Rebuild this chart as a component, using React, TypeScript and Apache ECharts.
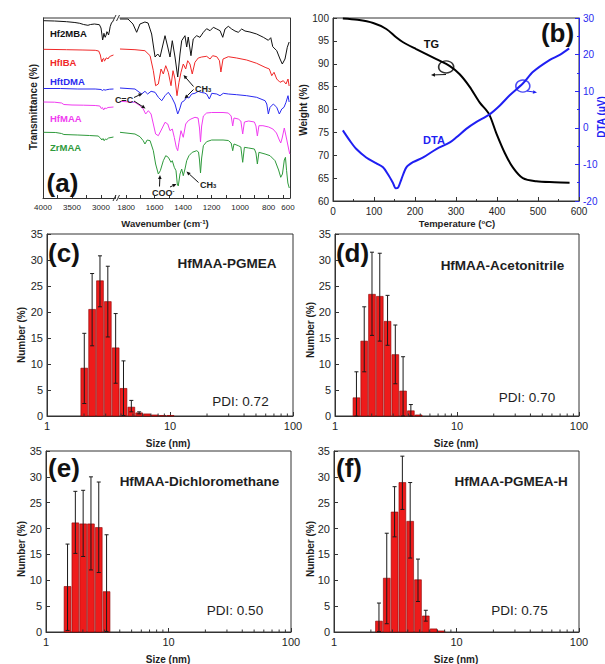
import React, { useEffect, useRef } from "react";
import * as echarts from "echarts";

const FONT = "'Liberation Sans', Arial, Helvetica, sans-serif";

// ---------- (a) FTIR spectra, [wavenumber (cm-1), offset transmittance (a.u.)]
const hf2mbaHigh = [[3990,177.3],[3800,177],[3593,176.3],[3450,175.5],[3367,174.7],[3300,173.5],[3226,172.7],[3180,173.5],[3113,174],[3028,173.3],[3000,170],[2985,164],[2972,158],[2960,161],[2949,164.7],[2938,162],[2927,160.7],[2912,163],[2898,166.3],[2884,165],[2870,163],[2855,167],[2842,171.3],[2820,175],[2785,177.3]];
const hf2mbaLow = [[1843,179],[1787,179],[1752,174],[1726,165.7],[1703,174],[1668,176],[1646,175],[1621,164],[1597,141],[1578,144],[1562,141],[1527,162.3],[1508,151],[1492,141],[1476,157.3],[1457,141],[1438,121],[1422,144],[1410,157.3],[1387,162.3],[1375,151],[1364,161],[1345,142.3],[1329,159],[1305,162.3],[1282,160.7],[1258,165.7],[1235,169.3],[1211,167.3],[1188,170.7],[1164,169],[1141,167.3],[1122,160.7],[1106,169],[1083,171.7],[1059,169],[1036,167],[1013,165.7],[989,169],[966,167],[931,166],[884,164],[837,160.7],[802,157.7],[785,160.3],[771,151.3],[743,147.3],[720,139],[704,134],[685,139],[669,150.7],[656,156]];

const hfibaHigh = [[3990,148.7],[3593,148.3],[3311,148],[3100,147.7],[3040,147],[3011,143],[2995,138],[2983,136],[2970,139],[2955,139.7],[2940,137],[2927,137.7],[2912,140],[2898,140],[2880,139],[2859,141],[2830,142],[2785,143]];
const hfibaLow = [[1843,149],[1738,148.3],[1668,147.3],[1632,142.3],[1609,127.3],[1593,112.3],[1574,114],[1555,129],[1539,124],[1522,132.3],[1504,125.7],[1485,112.3],[1471,127.3],[1457,119],[1443,102.3],[1429,115.7],[1415,125.7],[1399,134],[1382,129],[1368,137.3],[1352,134],[1336,124],[1317,135.7],[1294,140],[1270,141],[1235,141.7],[1211,139],[1193,142.3],[1164,141.3],[1145,137.3],[1135,126],[1120,139],[1083,141.3],[1024,140],[954,138],[884,134.7],[825,130.7],[795,129],[778,122.3],[762,125.7],[743,119],[720,115.7],[697,117.3],[678,114],[664,119],[656,112]];

const hftdmaHigh = [[3990,109.5],[3700,109.5],[3400,109],[3100,109],[3000,108.5],[2975,107.5],[2950,108.5],[2930,107.8],[2900,108.3],[2850,108.8],[2785,109]];
const hftdmaLow = [[1843,110],[1738,109],[1691,104],[1668,106.7],[1649,104],[1625,106.7],[1597,105.7],[1574,100.7],[1550,97.3],[1527,102.3],[1504,105.7],[1480,100.7],[1457,94],[1438,84],[1424,89],[1410,95.7],[1392,97.3],[1375,100.7],[1359,100],[1340,104],[1317,104.7],[1294,106.7],[1270,105.5],[1250,105],[1235,104],[1216,99],[1199,104.7],[1164,104],[1141,102.3],[1118,104.7],[1083,104],[1024,103.3],[954,102.3],[884,100.7],[825,97.3],[813,94],[802,84],[790,90.7],[767,94],[743,90.7],[725,84],[708,89],[692,90.7],[678,95.7],[664,102.3],[656,96]];

const hfmaaHigh = [[3990,96],[3800,95.8],[3680,95],[3640,93.5],[3500,93],[3300,92.8],[3100,92.5],[3020,92],[2995,89.5],[2975,90.5],[2955,88],[2935,90],[2910,89.5],[2880,90.5],[2785,91]];
const hfmaaLow = [[1843,96.7],[1738,95.7],[1703,92.3],[1680,89],[1663,84],[1644,87.3],[1625,84],[1609,74],[1593,64],[1574,62.3],[1550,69],[1527,75.7],[1508,74],[1492,67.3],[1476,69],[1462,60.7],[1448,50.7],[1438,47.3],[1429,55.7],[1415,67.3],[1399,60.7],[1382,74],[1364,77.3],[1345,79],[1317,80.7],[1295,80],[1285,70],[1278,56],[1270,72],[1258,82],[1235,85],[1200,85.5],[1120,85.5],[1083,85],[1063,82],[1052,72],[1043,80],[1013,79],[995,77],[982,64],[970,76],[940,77],[900,76],[889,72],[879,62],[868,72.3],[840,72.3],[800,71],[770,69],[745,65],[725,58],[715,55],[705,60],[690,70],[678,62],[668,55],[658,48],[652,44]];

const zrmaaHigh = [[3990,65.7],[3780,65.5],[3680,64.5],[3640,63.5],[3400,63],[3200,62.5],[3050,62],[3010,60],[2985,58],[2965,59.5],[2945,57.3],[2925,59],[2900,58.5],[2870,60],[2785,61]];
const zrmaaLow = [[1843,65.7],[1738,64],[1703,61.3],[1680,57.3],[1668,54],[1652,58],[1632,57.3],[1609,47.3],[1593,34],[1574,24],[1560,27.3],[1539,37.3],[1522,42.3],[1504,40.7],[1485,35.7],[1476,37.3],[1462,30.7],[1450,27.3],[1441,14],[1434,12],[1422,24],[1410,29],[1399,22.3],[1387,29],[1375,37.3],[1359,42.3],[1336,45.7],[1305,47.3],[1292,46],[1285,38],[1278,25],[1270,40],[1258,52.3],[1235,56.3],[1200,58],[1120,58],[1083,57.5],[1063,55],[1052,47.3],[1043,54],[1013,52.3],[995,51],[982,35.7],[970,50.7],[940,50],[900,49],[889,45],[879,34],[868,45.7],[825,44],[790,42.3],[755,37.3],[730,28],[715,20.7],[703,24],[690,38],[682,40.7],[674,27.3],[665,15],[655,10]];

const ftirNames = ["Hf2MBA", "HfIBA", "HftDMA", "HfMAA", "ZrMAA"];
const ftirColors = ["#111111", "#f02828", "#2a2af0", "#f03cf0", "#2f9a3c"];
const ftirHigh = [hf2mbaHigh, hfibaHigh, hftdmaHigh, hfmaaHigh, zrmaaHigh];
const ftirLow = [hf2mbaLow, hfibaLow, hftdmaLow, hfmaaLow, zrmaaLow];
const ftirHighTicks = [4000, 3500, 3000];
const ftirLowTicks = [1800, 1600, 1400, 1200, 1000, 800];
const ftirLowMinor = [1800, 1700, 1600, 1500, 1400, 1300, 1200, 1100, 1000, 900, 800, 700];

// ---------- (b) TG / DTA
const tgT = [24, 60, 98, 130, 154, 171, 203, 252, 285, 309, 333, 358, 380, 398, 419, 439, 463, 496, 540, 577];
const tgW = [99.9, 99.6, 98.9, 97.6, 95.8, 94.7, 93.2, 91.0, 89.5, 87.7, 85.0, 81.5, 79.1, 74.9, 70.5, 67.3, 65.0, 64.3, 64.1, 64.0];
const dtaT = [24, 41, 57, 81, 106, 122, 134, 146, 153, 159, 167, 179, 195, 220, 252, 285, 301, 325, 350, 381, 407, 431, 463, 488, 528, 553, 576];
const dtaV = [-0.7, -3.5, -5.8, -8.1, -9.7, -10.8, -12.7, -15.0, -16.5, -16.3, -14.0, -10.8, -9.4, -8.1, -5.8, -4.0, -2.6, -0.3, 1.6, 3.6, 6.1, 8.9, 12.1, 15.3, 18.5, 19.9, 21.7];
const tgMarker = [276, 89.3];
const dtaMarker = [463, 11.4];

// ---------- (c)-(f) DLS size distributions: bin centre (nm), number %, error low, error high
const binsC = [2.010, 2.328, 2.696, 3.122, 3.615, 4.187, 4.849, 5.615, 6.503, 7.531, 8.721, 10.10];
const valC = [9.2, 20.5, 26.0, 22.0, 13.1, 5.3, 1.7, 0.6, 0.4, 0.2, 0.1, 0.1];
const loC = [2.4, 13.5, 21.0, 15.2, 6.3, 0.1, 0.8, 0.4, 0.3, 0.2, 0.1, 0.1];
const hiC = [15.9, 27.4, 30.8, 28.8, 19.7, 10.6, 3.0, 0.8, 0.5, 0.2, 0.1, 0.1];

const binsD = [1.499, 1.736, 2.010, 2.328, 2.696, 3.122, 3.615, 4.187, 4.849];
const valD = [3.5, 14.4, 23.4, 23.0, 18.2, 11.8, 4.8, 1.0, 0.2];
const loD = [0, 8.5, 15.5, 14.4, 13.6, 6.2, 0, 0, 0.2];
const hiD = [8.5, 21.0, 31.5, 31.3, 23.2, 17.5, 11.4, 2.2, 0.2];

const binsE = [1.499, 1.736, 2.010, 2.328, 2.696, 3.122];
const valE = [8.8, 21.1, 20.9, 20.9, 20.2, 7.8];
const loE = [0.3, 15.2, 14.6, 12.0, 11.5, 0.1];
const hiE = [17.0, 27.2, 27.4, 30.0, 29.0, 18.8];

const binsF = [2.328, 2.696, 3.122, 3.615, 4.187, 4.849, 5.615, 6.503, 7.531];
const valF = [2.1, 10.4, 23.2, 28.9, 21.4, 10.1, 3.1, 0.6, 0.2];
const loF = [0.1, 1.6, 18.4, 23.7, 14.3, 5.9, 2.1, 0.5, 0.2];
const hiF = [5.6, 19.1, 28.1, 34.0, 28.9, 14.1, 4.2, 0.7, 0.2];

const dlsTitles = ["HfMAA-PGMEA", "HfMAA-Acetonitrile", "HfMAA-Dichloromethane", "HfMAA-PGMEA-H"];
const dlsPDI = ["PDI: 0.72", "PDI: 0.70", "PDI: 0.50", "PDI: 0.75"];
const logMinor = [2, 3, 4, 5, 6, 7, 8, 9, 20, 30, 40, 50, 60, 70, 80, 90];
const BIN_RATIO = 1.158;

const AX = "#333";
const TXT = "#1e1e1e";

function histItem(params: any, api: any) {
  const c = api.value(0), v = api.value(1), lo = api.value(2), hi = api.value(3);
  const h = Math.sqrt(BIN_RATIO);
  const tl = api.coord([c / h, v]);
  const br = api.coord([c * h, 0]);
  const children: any[] = [
    {
      type: "rect",
      shape: { x: tl[0] + 0.5, y: tl[1], width: Math.max(br[0] - tl[0] - 1, 0.5), height: Math.max(br[1] - tl[1], 0.4) },
      style: { fill: "#ee1b1b", stroke: "#8a0000", lineWidth: 0.6 },
    },
  ];
  if (hi - lo > 0.3) {
    const t = api.coord([c, hi]);
    const b = api.coord([c, lo]);
    const st = { stroke: "#1a1a1a", lineWidth: 1 };
    children.push({ type: "line", shape: { x1: t[0], y1: t[1], x2: b[0], y2: b[1] }, style: st });
    children.push({ type: "line", shape: { x1: t[0] - 2, y1: t[1], x2: t[0] + 2, y2: t[1] }, style: st });
    children.push({ type: "line", shape: { x1: b[0] - 2, y1: b[1], x2: b[0] + 2, y2: b[1] }, style: st });
  }
  return { type: "group", children };
}

function minorTickItem(params: any, api: any) {
  const p = api.coord([api.value(0), 0]);
  return { type: "line", shape: { x1: p[0], y1: p[1], x2: p[0], y2: p[1] - 2.5 }, style: { stroke: AX, lineWidth: 1 } };
}

function text(x: number, y: number, t: string, o: any = {}) {
  const { rotation, ...style } = o;
  return {
    type: "text", x, y, z: 100, rotation: rotation || 0,
    style: { text: t, fontFamily: FONT, fontSize: 10, fill: TXT, align: "center", verticalAlign: "middle", ...style },
  };
}

function arrow(x1: number, y1: number, x2: number, y2: number, color = "#111", w = 1) {
  const a = Math.atan2(y2 - y1, x2 - x1);
  const L = 4, W = 1.8;
  const bx = x2 - L * Math.cos(a), by = y2 - L * Math.sin(a);
  const px = -Math.sin(a) * W, py = Math.cos(a) * W;
  return [
    { type: "line", z: 100, shape: { x1, y1, x2: bx, y2: by }, style: { stroke: color, lineWidth: w } },
    { type: "polygon", z: 100, shape: { points: [[x2, y2], [bx + px, by + py], [bx - px, by - py]] }, style: { fill: color } },
  ];
}

function seg(x1: number, y1: number, x2: number, y2: number) {
  return { type: "line", z: 100, shape: { x1, y1, x2, y2 }, style: { stroke: AX, lineWidth: 1 } };
}

function buildOption() {
  const frame = { show: true, borderColor: AX, borderWidth: 1, backgroundColor: "transparent" };
  const grid = [
    { left: 43, top: 18, width: 72.5, height: 180 },
    { left: 119, top: 18, width: 171, height: 180 },
    { left: 333, top: 18, width: 246, height: 183, ...frame },
    { left: 47, top: 234, width: 246, height: 182, ...frame },
    { left: 335, top: 234, width: 244, height: 182, ...frame },
    { left: 46, top: 451, width: 245, height: 181, ...frame },
    { left: 334, top: 451, width: 245, height: 181, ...frame },
  ];
  const lbl = (size: number, margin: number, color = TXT) => ({ fontFamily: FONT, fontSize: size, color, margin });
  const line = { show: true, onZero: false, lineStyle: { color: AX, width: 1 } };
  const tick = (len: number, color = AX) => ({ show: true, inside: true, length: len, lineStyle: { color } });

  const xAxis: any[] = [
    {
      gridIndex: 0, type: "value", min: 2750, max: 4000, interval: 250, inverse: true,
      axisLine: line, axisTick: tick(3), splitLine: { show: false },
      axisLabel: { ...lbl(8, 5), formatter: (v: number) => (ftirHighTicks.includes(v) ? String(v) : "") },
    },
    {
      gridIndex: 1, type: "value", min: 650, max: 1850, inverse: true,
      axisLine: line, axisTick: { ...tick(3), customValues: ftirLowMinor }, splitLine: { show: false },
      axisLabel: { ...lbl(8, 5), customValues: ftirLowTicks, formatter: (v: number) => String(v) },
    },
    {
      gridIndex: 2, type: "value", min: 0, max: 600, interval: 100,
      axisLine: line, axisTick: tick(4), minorTick: { show: true, splitNumber: 2, length: 2, lineStyle: { color: AX } },
      splitLine: { show: false }, axisLabel: lbl(10, 5),
    },
  ];
  for (let g = 3; g <= 6; g++) {
    xAxis.push({
      gridIndex: g, type: "log", logBase: 10, min: 1, max: 100,
      axisLine: line, axisTick: tick(4), splitLine: { show: false }, axisLabel: lbl(11, 4),
    });
  }
  const yAxis: any[] = [
    { gridIndex: 0, type: "value", min: 0, max: 180, axisLine: line, axisTick: { show: false }, axisLabel: { show: false }, splitLine: { show: false } },
    { gridIndex: 1, type: "value", position: "right", min: 0, max: 180, axisLine: line, axisTick: { show: false }, axisLabel: { show: false }, splitLine: { show: false } },
    { gridIndex: 2, type: "value", min: 60, max: 100, interval: 5, axisLine: line, axisTick: tick(4), splitLine: { show: false }, axisLabel: lbl(10, 4) },
    {
      gridIndex: 2, type: "value", position: "right", min: -20, max: 30, interval: 10,
      axisLine: { show: true, onZero: false, lineStyle: { color: "#2a2af0" } }, axisTick: tick(4, "#2a2af0"),
      minorTick: { show: true, splitNumber: 2, length: 2, lineStyle: { color: "#2a2af0" } },
      splitLine: { show: false }, axisLabel: lbl(10, 4, "#2a2af0"),
    },
  ];
  for (let g = 3; g <= 6; g++) {
    yAxis.push({ gridIndex: g, type: "value", min: 0, max: 35, interval: 5, axisLine: line, axisTick: tick(4), splitLine: { show: false }, axisLabel: lbl(11, 4) });
  }

  const series: any[] = [];
  ftirNames.forEach((name, i) => {
    const base = { type: "line", name, symbol: "none", silent: true, lineStyle: { color: ftirColors[i], width: 1 }, animation: false };
    series.push({ ...base, xAxisIndex: 0, yAxisIndex: 0, data: ftirHigh[i] });
    series.push({ ...base, xAxisIndex: 1, yAxisIndex: 1, data: ftirLow[i] });
  });
  series.push({
    type: "line", name: "TG", xAxisIndex: 2, yAxisIndex: 2, symbol: "none", smooth: 0.3, silent: true,
    lineStyle: { color: "#000", width: 2 }, data: tgT.map((t, i) => [t, tgW[i]]),
  });
  series.push({
    type: "line", name: "DTA", xAxisIndex: 2, yAxisIndex: 3, symbol: "none", smooth: 0.3, silent: true,
    lineStyle: { color: "#1f1ff2", width: 2 }, data: dtaT.map((t, i) => [t, dtaV[i]]),
  });
  series.push({
    type: "scatter", xAxisIndex: 2, yAxisIndex: 2, symbol: "circle", symbolSize: [15, 12], silent: true, z: 5,
    itemStyle: { color: "transparent", borderColor: "#000", borderWidth: 1.5 }, data: [tgMarker],
  });
  series.push({
    type: "scatter", xAxisIndex: 2, yAxisIndex: 3, symbol: "circle", symbolSize: [14, 12], silent: true, z: 5,
    itemStyle: { color: "transparent", borderColor: "#1f1ff2", borderWidth: 1.5 }, data: [dtaMarker],
  });

  const dls = [
    [binsC, valC, loC, hiC],
    [binsD, valD, loD, hiD],
    [binsE, valE, loE, hiE],
    [binsF, valF, loF, hiF],
  ];
  dls.forEach((d, k) => {
    const [b, v, lo, hi] = d;
    series.push({
      type: "custom", xAxisIndex: 3 + k, yAxisIndex: 4 + k, silent: true, renderItem: histItem,
      encode: { x: 0, y: 1 }, data: b.map((x, i) => [x, v[i], lo[i], hi[i]]),
    });
    series.push({
      type: "custom", xAxisIndex: 3 + k, yAxisIndex: 4 + k, silent: true, renderItem: minorTickItem,
      encode: { x: 0, y: 1 }, data: logMinor.map((x) => [x, 0]),
    });
  });

  const bold = { fontWeight: "bold" };
  const axisTitle = { fontSize: 10, fontWeight: "bold" };
  const supRich = (size: number) => ({
    t: { fontFamily: FONT, fontSize: size, fontWeight: "bold", fill: TXT, verticalAlign: "middle" },
    s: { fontFamily: FONT, fontSize: size * 0.65, fontWeight: "bold", fill: TXT, verticalAlign: "top" },
    b: { fontFamily: FONT, fontSize: size * 0.65, fontWeight: "bold", fill: TXT, verticalAlign: "bottom" },
  });
  const labelY = [33.3, 62.3, 81, 118, 147];
  const graphic: any[] = [
    // (a) frame with axis break
    seg(43, 18, 114.5, 18),
    seg(119.5, 18, 290, 18),
    seg(113, 21, 116, 15),
    seg(116.5, 21, 119.5, 15),
    seg(113, 201, 116, 195),
    seg(116.5, 201, 119.5, 195),
    text(288, 207.5, "600", { fontSize: 8, fill: TXT }),
    ...ftirNames.map((n, i) => text(50, labelY[i], n, { ...bold, fontSize: 9.5, fill: ftirColors[i], align: "left" })),
    text(124, 99.5, "C=C", { ...bold, fontSize: 9 }),
    ...arrow(134, 97.5, 142.5, 93.5),
    ...arrow(134, 101, 145.5, 108.5),
    { ...text(195, 88.5, "{t|CH}{b|3}", { rich: supRich(9), align: "left" }) },
    ...arrow(193.5, 86.5, 183.5, 75),
    ...arrow(193.5, 89.5, 184.5, 98.5),
    { ...text(152, 192.5, "{t|COO}{s|-}", { rich: supRich(9), align: "left" }) },
    ...arrow(159.5, 186.5, 160, 175),
    ...arrow(170, 187, 176.5, 184),
    { ...text(200, 184.5, "{t|CH}{b|3}", { rich: supRich(9), align: "left" }) },
    ...arrow(198.5, 182.5, 186.5, 171.5),
    text(62.5, 182.5, "(a)", { ...bold, fontSize: 26, fill: "#111" }),
    text(33, 107, "Transmittance (%)", { ...axisTitle, rotation: Math.PI / 2 }),
    { ...text(165, 223, "{t|Wavenumber (cm}{s|-1}{t|)}", { rich: supRich(9.5) }) },
    // (b)
    text(557.5, 33, "(b)", { ...bold, fontSize: 26, fill: "#111" }),
    text(431.5, 43.5, "TG", { ...bold, fontSize: 11, fill: "#111" }),
    text(434, 140, "DTA", { ...bold, fontSize: 11, fill: "#1f1ff2" }),
    ...arrow(446, 74.5, 431, 75, "#111"),
    ...arrow(527, 91, 537, 92.5, "#1f1ff2"),
    text(303.5, 110, "Weight (%)", { ...axisTitle, rotation: Math.PI / 2 }),
    text(601, 117, "DTA (\u03bcV)", { ...axisTitle, fill: "#1f1ff2", rotation: Math.PI / 2 }),
    { ...text(457, 223, "{t|Temperature (}{s|o}{t|C)}", { rich: supRich(9.5) }) },
    // (c)-(f)
    text(64, 252.7, "(c)", { ...bold, fontSize: 26, fill: "#111" }),
    text(352.5, 252.7, "(d)", { ...bold, fontSize: 26, fill: "#111" }),
    text(64, 468, "(e)", { ...bold, fontSize: 26, fill: "#111" }),
    text(349, 468, "(f)", { ...bold, fontSize: 26, fill: "#111" }),
    text(227, 263, dlsTitles[0], { ...bold, fontSize: 13.5 }),
    text(502.5, 265, dlsTitles[1], { ...bold, fontSize: 13.5 }),
    text(199.5, 481.7, dlsTitles[2], { ...bold, fontSize: 13.5 }),
    text(511, 481.7, dlsTitles[3], { ...bold, fontSize: 13.5 }),
    text(240.5, 401.7, dlsPDI[0], { fontSize: 13.5 }),
    text(527, 397.7, dlsPDI[1], { fontSize: 13.5 }),
    text(235, 610, dlsPDI[2], { fontSize: 13.5 }),
    text(519.5, 610, dlsPDI[3], { fontSize: 13.5 }),
    text(21.7, 335, "Number (%)", { ...axisTitle, rotation: Math.PI / 2 }),
    text(310, 330, "Number (%)", { ...axisTitle, rotation: Math.PI / 2 }),
    text(21.7, 549, "Number (%)", { ...axisTitle, rotation: Math.PI / 2 }),
    text(310, 549, "Number (%)", { ...axisTitle, rotation: Math.PI / 2 }),
    text(168, 443, "Size (nm)", axisTitle),
    text(456, 443, "Size (nm)", axisTitle),
    text(168, 659.5, "Size (nm)", axisTitle),
    text(456, 659.5, "Size (nm)", axisTitle),
  ];

  return {
    animation: false,
    backgroundColor: "#ffffff",
    textStyle: { fontFamily: FONT },
    grid,
    xAxis,
    yAxis,
    series,
    graphic: { elements: graphic },
  };
}

export default function App() {
  const ref = useRef<HTMLDivElement>(null);
  useEffect(() => {
    document.body.style.margin = "0";
    const chart = echarts.init(ref.current as HTMLDivElement, null, { renderer: "svg" });
    chart.setOption(buildOption() as any);
    return () => chart.dispose();
  }, []);
  return <div ref={ref} style={{ width: 605, height: 664, background: "#fff" }} />;
}
